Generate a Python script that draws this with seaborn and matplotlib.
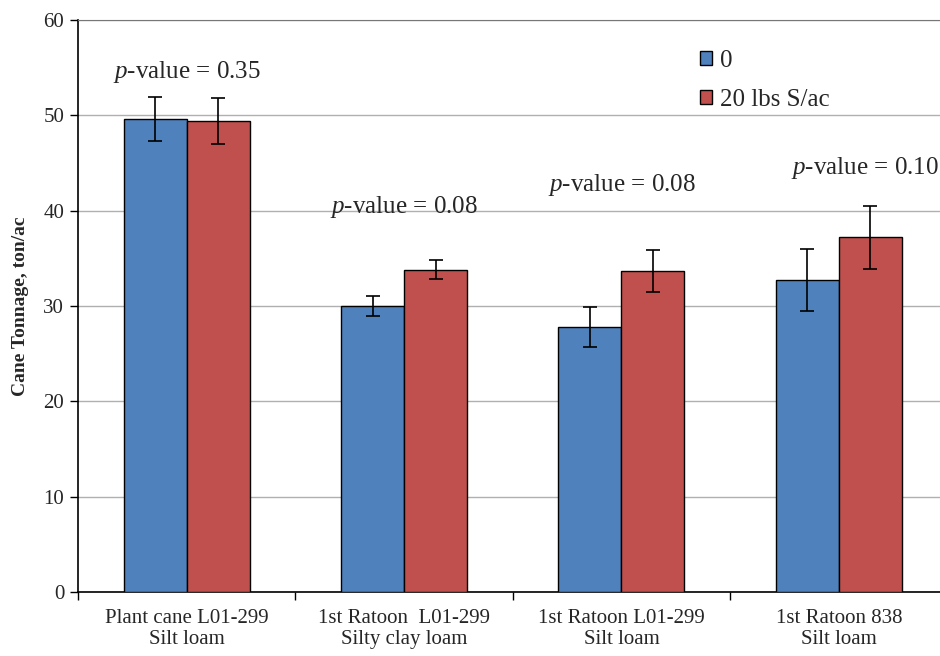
import pandas as pd
import matplotlib.pyplot as plt
import seaborn as sns

# data
sites = ['Plant cane L01-299\nSilt loam', '1st Ratoon  L01-299\nSilty clay loam',
         '1st Ratoon L01-299\nSilt loam', '1st Ratoon 838\nSilt loam']
treatments = ['0', '20 lbs S/ac']
yield_0 = [49.6, 30.0, 27.8, 32.7]
yield_20 = [49.4, 33.8, 33.7, 37.2]
err_0 = [2.35, 1.05, 2.1, 3.25]
err_20 = [2.4, 1.0, 2.2, 3.3]
p_values = ['0.35', '0.08', '0.08', '0.10']
p_heights = [54.5, 40.4, 42.7, 44.5]

df = pd.DataFrame({
    'Site': sites * 2,
    'Treatment': [treatments[0]] * 4 + [treatments[1]] * 4,
    'Yield': yield_0 + yield_20,
    'Err': err_0 + err_20,
})

sns.set_style('white')
plt.rcParams['font.family'] = ['Liberation Serif', 'DejaVu Serif']
plt.rcParams['mathtext.fontset'] = 'custom'
plt.rcParams['mathtext.it'] = 'Liberation Serif:italic'
plt.rcParams['mathtext.rm'] = 'Liberation Serif'

fig = plt.figure(figsize=(9.4, 6.56), dpi=100)
ax = fig.add_axes([0.083, 0.0976, 0.925, 0.872])

sns.barplot(data=df, x='Site', y='Yield', hue='Treatment', palette=['#4f81bd', '#c0504d'],
            width=0.58, edgecolor='black', linewidth=1, errorbar=None, ax=ax, zorder=3,
            saturation=1)

# error bars, placed on the bars that seaborn drew
bars = [p for p in ax.patches if p.get_height() > 0][:len(df)]
for bar, e in zip(bars, df['Err']):
    ax.errorbar(bar.get_x() + bar.get_width() / 2, bar.get_height(), yerr=e,
                fmt='none', ecolor='black', elinewidth=1.2, capsize=5, capthick=1.2, zorder=4)

# p-value annotations
for i, (p, h) in enumerate(zip(p_values, p_heights)):
    xoff = 0.12 if i == 3 else 0
    ax.text(i + xoff, h, r'$p$' + f'-value = {p}', ha='center', va='center', fontsize=18)

ax.set_ylim(0, 60)
ax.set_xlim(-0.5, 3.5)
ax.set_yticks(range(0, 61, 10))
ax.yaxis.grid(True, color='#b0b0b0', linewidth=1)
ax.set_axisbelow(True)
ax.set_ylabel('Cane Tonnage, ton/ac', fontsize=14, fontweight='bold', labelpad=10)
ax.set_xlabel('')

ax.tick_params(axis='y', labelsize=15, length=6, width=1, color='black', direction='out', left=True, pad=4)
ax.tick_params(axis='x', which='major', labelsize=15, length=0, pad=12)
ax.set_xticks([-0.5, 0.5, 1.5, 2.5, 3.5], minor=True)
ax.tick_params(axis='x', which='minor', length=6, width=1, color='black', direction='out', bottom=True)

for s in ['left', 'bottom']:
    ax.spines[s].set_color('black')
    ax.spines[s].set_linewidth(1.2)
ax.spines['right'].set_visible(False)
ax.spines['top'].set_color('#777777')

leg = ax.legend(loc='upper left', bbox_to_anchor=(0.715, 0.948), frameon=False, fontsize=18,
                handlelength=0.5, handleheight=0.5, handletextpad=0.3, labelspacing=0.7,
                borderpad=0, borderaxespad=0)
for h in leg.legend_handles:
    h.set_edgecolor('black')

fig.savefig('out.png', dpi=100)
